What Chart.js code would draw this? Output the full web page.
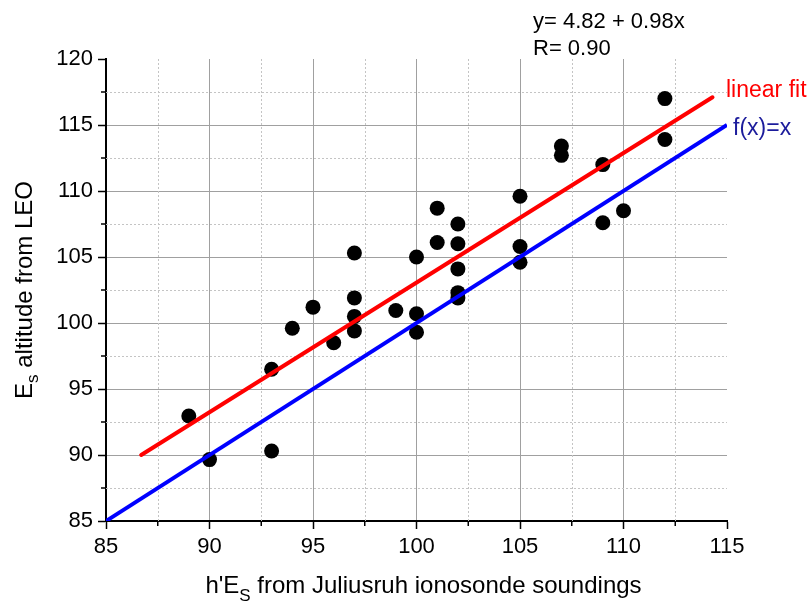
<!DOCTYPE html>
<html>
<head>
<meta charset="utf-8">
<script src="https://cdn.jsdelivr.net/npm/chart.js@4.4.0/dist/chart.umd.min.js"></script>
<style>
  html, body { margin: 0; padding: 0; background: #fff; }
  #wrap { width: 811px; height: 603px; }
</style>
</head>
<body>
<div id="wrap"><canvas id="c" width="811" height="603"></canvas></div>
<script>
// h'Es (ionosonde) vs Es altitude from LEO, km
var hEs = [89, 90, 93, 93, 94, 95, 96, 97, 97, 97, 97, 99, 100, 100, 100, 101, 101,
           102, 102, 102, 102, 102, 105, 105, 105, 107, 107, 109, 109, 110, 112, 112];
var leoEs = [92.95, 89.65, 96.5, 90.3, 99.6, 101.2, 98.5, 105.3, 101.9, 100.5, 99.4, 100.95, 105.0, 100.7, 99.3, 108.7, 106.1,
             107.5, 106.0, 104.1, 102.3, 101.9, 109.6, 105.8, 104.6, 113.4, 112.7, 112.0, 107.6, 108.5, 117.0, 113.9];
var fitX = [86.7, 114.3];
var fitY = [90.0, 117.1];
var idX = [85, 115];
var idY = [85, 115];
var minorX = [87.5, 92.5, 97.5, 102.5, 107.5, 112.5];
var minorY = [87.5, 92.5, 97.5, 102.5, 107.5, 112.5, 117.5];

var FONT = '"Liberation Sans", Arial, sans-serif';

function pts(xs, ys) {
  return xs.map(function(x, i) { return { x: x, y: ys[i] }; });
}

function gridColor(edge) {
  return function(ctx) {
    if (!ctx.tick) return '#a0a0a0';
    return ctx.tick.value === edge ? 'rgba(0,0,0,0)' : '#a0a0a0';
  };
}

var extras = {
  id: 'extras',
  beforeDatasetsDraw: function(chart) {
    var ctx = chart.ctx, a = chart.chartArea, xs = chart.scales.x, ys = chart.scales.y;
    ctx.save();
    // dotted minor grid
    ctx.strokeStyle = '#c4c4c4';
    ctx.lineWidth = 1;
    ctx.setLineDash([2, 2]);
    minorX.forEach(function(v) {
      var p = Math.round(xs.getPixelForValue(v)) + 0.5;
      ctx.beginPath(); ctx.moveTo(p, a.top); ctx.lineTo(p, a.bottom); ctx.stroke();
    });
    minorY.forEach(function(v) {
      var p = Math.round(ys.getPixelForValue(v)) + 0.5;
      ctx.beginPath(); ctx.moveTo(a.left, p); ctx.lineTo(a.right, p); ctx.stroke();
    });
    // minor ticks
    ctx.setLineDash([]);
    ctx.strokeStyle = '#000';
    ctx.lineWidth = 1.5;
    minorX.forEach(function(v) {
      var p = xs.getPixelForValue(v);
      ctx.beginPath(); ctx.moveTo(p, a.bottom); ctx.lineTo(p, a.bottom + 5); ctx.stroke();
    });
    minorY.forEach(function(v) {
      var p = ys.getPixelForValue(v);
      ctx.beginPath(); ctx.moveTo(a.left - 5, p); ctx.lineTo(a.left, p); ctx.stroke();
    });
    ctx.restore();
  },
  afterDraw: function(chart) {
    var ctx = chart.ctx, a = chart.chartArea;
    ctx.save();
    ctx.textBaseline = 'alphabetic';
    ctx.textAlign = 'left';

    // fit equation
    ctx.fillStyle = '#000';
    ctx.font = '22px ' + FONT;
    ctx.fillText('y= 4.82 + 0.98x', 533, a.top - 31);
    ctx.fillText('R= 0.90', 533, a.top - 4);

    // line labels
    ctx.font = '23px ' + FONT;
    ctx.fillStyle = '#ff0000';
    ctx.fillText('linear fit', a.right - 1, 97);
    ctx.fillStyle = '#1c1c9c';
    ctx.fillText('f(x)=x', a.right + 6, 135);

    // x title with subscript
    var big = '24px ' + FONT, small = '17px ' + FONT;
    ctx.fillStyle = '#000';
    ctx.font = big;
    var w1 = ctx.measureText("h'E").width;
    var w3 = ctx.measureText(' from Juliusruh ionosonde soundings').width;
    ctx.font = small;
    var w2 = ctx.measureText('S').width;
    var cx = (a.left + a.right) / 2 + 7;
    var x0 = cx - (w1 + w2 + w3) / 2, yb = 593;
    ctx.font = big; ctx.fillText("h'E", x0, yb);
    ctx.font = small; ctx.fillText('S', x0 + w1, yb + 8);
    ctx.font = big; ctx.fillText(' from Juliusruh ionosonde soundings', x0 + w1 + w2, yb);

    // y title, rotated
    ctx.translate(32, (a.top + a.bottom) / 2);
    ctx.rotate(-Math.PI / 2);
    ctx.font = big;
    var v1 = ctx.measureText('E').width;
    var v3 = ctx.measureText(' altitude from LEO').width;
    ctx.font = small;
    var v2 = ctx.measureText('s').width;
    var s0 = -(v1 + v2 + v3) / 2;
    ctx.font = big; ctx.fillText('E', s0, 0);
    ctx.font = small; ctx.fillText('s', s0 + v1, 6);
    ctx.font = big; ctx.fillText(' altitude from LEO', s0 + v1 + v2, 0);
    ctx.restore();
  }
};

new Chart(document.getElementById('c'), {
  type: 'scatter',
  data: {
    datasets: [
      {
        label: 'linear fit',
        data: pts(fitX, fitY),
        showLine: true,
        borderColor: '#ff0000',
        borderWidth: 4,
        pointRadius: 0,
        borderCapStyle: 'round',
        order: 0
      },
      {
        label: 'f(x)=x',
        data: pts(idX, idY),
        showLine: true,
        borderColor: '#0000ff',
        borderWidth: 4,
        pointRadius: 0,
        order: 0
      },
      {
        label: 'data',
        data: pts(hEs, leoEs),
        backgroundColor: '#000',
        borderColor: '#000',
        borderWidth: 0,
        pointRadius: 7.5,
        order: 1
      }
    ]
  },
  options: {
    responsive: false,
    animation: false,
    layout: { padding: { left: 0, right: 84, top: 59, bottom: 0 } },
    plugins: { legend: { display: false }, tooltip: { enabled: false } },
    scales: {
      x: {
        type: 'linear',
        min: 85,
        max: 115,
        afterFit: function(s) { s.height = 82; },
        ticks: { stepSize: 5, autoSkip: false, maxRotation: 0, padding: 5, color: '#000', font: { family: FONT, size: 22 } },
        grid: { color: gridColor(115), lineWidth: 1, tickColor: '#000', tickLength: 8, tickWidth: 1.5 },
        border: { display: true, color: '#000', width: 2 }
      },
      y: {
        type: 'linear',
        min: 85,
        max: 120,
        afterFit: function(s) { s.width = 106; },
        ticks: { stepSize: 5, autoSkip: false, padding: 5, color: '#000', font: { family: FONT, size: 22 } },
        grid: { color: gridColor(120), lineWidth: 1, tickColor: '#000', tickLength: 8, tickWidth: 1.5 },
        border: { display: true, color: '#000', width: 2 }
      }
    }
  },
  plugins: [extras]
});
</script>
</body>
</html>
